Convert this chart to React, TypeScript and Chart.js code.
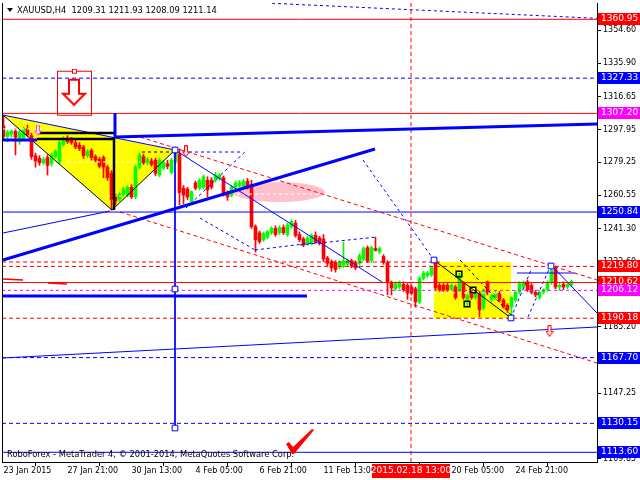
import React, { useEffect, useRef } from 'react';
import { Chart, registerables } from 'chart.js';

Chart.register(...registerables);

// XAUUSD H4 bars, oldest first (index 0 = 23 Jan 2015)
const opens = [
  1300.0, 1294.0, 1295.5, 1297.0, 1291.0, 1293.0, 1298.5, 1294.5, 1283.0, 1281.5,
  1279.0, 1282.0, 1278.5, 1282.5, 1279.5, 1289.5, 1293.0, 1292.0, 1290.5, 1289.0,
  1288.0, 1283.0, 1286.0, 1282.5, 1281.0, 1282.0, 1276.5, 1273.0, 1259.5, 1258.0,
  1261.0, 1260.5, 1265.0, 1259.5, 1276.5, 1282.5, 1279.0, 1280.0, 1280.5, 1272.0,
  1276.0, 1278.5, 1273.5, 1279.5, 1284.0, 1264.5, 1264.0, 1257.0, 1267.5, 1264.5,
  1265.0, 1269.0, 1269.0, 1269.0, 1270.0, 1270.5, 1262.0, 1260.5, 1265.0, 1266.0,
  1265.5, 1268.5, 1266.5, 1242.5, 1239.0, 1235.0, 1236.5, 1239.0, 1241.5, 1239.0,
  1242.0, 1238.0, 1242.5, 1244.5, 1238.0, 1235.5, 1233.0, 1233.0, 1237.5, 1236.0,
  1235.5, 1224.5, 1222.5, 1222.0, 1219.5, 1220.0, 1221.0, 1223.0, 1222.0, 1221.5,
  1224.0, 1230.5, 1223.0, 1230.0, 1228.0, 1225.5, 1222.0, 1210.5, 1207.0, 1208.0,
  1209.5, 1209.0, 1208.0, 1207.0, 1199.5, 1213.0, 1214.5, 1215.0, 1223.0, 1209.0,
  1209.0, 1209.0, 1207.0, 1208.0, 1206.0, 1210.0, 1201.0, 1204.5, 1202.0, 1204.5,
  1196.0, 1211.0, 1201.0, 1202.0, 1204.5, 1200.5, 1197.5, 1196.5, 1200.5, 1205.0,
  1208.0, 1211.0, 1209.0, 1205.0, 1202.0, 1205.0, 1206.5, 1210.5, 1219.0, 1208.0,
  1209.5, 1208.0, 1209.31,
];
const highs = [
  1305.5, 1297.5, 1298.0, 1298.5, 1297.5, 1299.5, 1300.5, 1296.0, 1284.5, 1283.0,
  1282.0, 1283.5, 1284.5, 1286.5, 1291.5, 1294.0, 1294.5, 1293.5, 1292.0, 1290.5,
  1289.0, 1286.5, 1287.0, 1283.5, 1282.0, 1283.0, 1277.5, 1274.5, 1261.0, 1262.0,
  1265.0, 1266.0, 1266.5, 1277.5, 1284.5, 1284.0, 1282.0, 1281.5, 1281.5, 1281.5,
  1280.0, 1280.5, 1281.5, 1288.0, 1287.0, 1266.0, 1265.0, 1263.0, 1268.5, 1270.0,
  1272.0, 1271.0, 1270.5, 1273.5, 1273.0, 1271.5, 1263.0, 1266.0, 1268.5, 1269.0,
  1269.5, 1270.0, 1269.0, 1243.5, 1240.0, 1239.5, 1240.5, 1242.5, 1243.0, 1243.0,
  1243.5, 1244.5, 1246.5, 1246.0, 1239.5, 1236.5, 1237.0, 1238.5, 1239.5, 1237.0,
  1238.0, 1225.5, 1223.5, 1223.0, 1223.0, 1233.5, 1224.0, 1224.0, 1223.0, 1227.0,
  1231.0, 1231.5, 1231.5, 1236.5, 1231.0, 1226.5, 1223.0, 1211.5, 1211.0, 1211.5,
  1211.0, 1210.0, 1209.0, 1208.0, 1214.0, 1217.0, 1217.0, 1220.0, 1224.5, 1210.5,
  1210.0, 1210.0, 1210.0, 1209.0, 1216.0, 1211.0, 1204.0, 1206.0, 1205.5, 1205.5,
  1207.0, 1211.5, 1204.0, 1205.5, 1205.5, 1201.5, 1198.5, 1202.5, 1206.0, 1211.0,
  1211.5, 1212.0, 1210.0, 1206.0, 1206.0, 1207.0, 1211.5, 1220.5, 1220.0, 1210.0,
  1211.0, 1210.5, 1211.93,
];
const lows = [
  1292.5, 1291.0, 1293.5, 1283.5, 1289.5, 1292.0, 1294.0, 1281.0, 1276.5, 1277.5,
  1278.0, 1272.0, 1277.0, 1281.5, 1278.5, 1288.5, 1290.0, 1289.5, 1287.0, 1286.0,
  1281.5, 1282.0, 1280.5, 1279.5, 1276.0, 1270.5, 1269.0, 1252.0, 1255.0, 1257.0,
  1260.0, 1259.5, 1258.5, 1258.5, 1275.5, 1278.0, 1278.0, 1277.0, 1271.5, 1271.0,
  1275.0, 1275.5, 1272.5, 1278.5, 1255.0, 1255.5, 1258.0, 1256.0, 1263.5, 1263.5,
  1264.0, 1259.5, 1264.0, 1268.0, 1269.0, 1260.0, 1257.5, 1259.5, 1264.0, 1265.0,
  1264.5, 1264.0, 1241.5, 1228.0, 1233.0, 1234.0, 1235.5, 1238.0, 1237.0, 1238.0,
  1238.0, 1237.0, 1241.5, 1236.5, 1234.0, 1231.0, 1232.0, 1232.0, 1233.0, 1232.0,
  1222.5, 1220.0, 1217.0, 1216.5, 1218.5, 1219.0, 1220.0, 1219.0, 1218.0, 1220.5,
  1223.0, 1222.0, 1222.0, 1228.5, 1227.0, 1221.0, 1203.5, 1203.5, 1206.0, 1207.0,
  1205.5, 1201.0, 1203.5, 1196.5, 1198.5, 1212.0, 1213.5, 1214.0, 1206.5, 1205.5,
  1205.5, 1205.5, 1206.0, 1201.0, 1205.0, 1201.0, 1197.0, 1201.0, 1201.0, 1191.0,
  1195.0, 1203.5, 1199.5, 1201.0, 1199.5, 1196.0, 1193.5, 1190.0, 1199.5, 1204.0,
  1207.0, 1205.5, 1204.0, 1202.5, 1201.0, 1204.0, 1205.5, 1209.5, 1207.0, 1206.0,
  1206.5, 1207.0, 1208.09,
];
const closes = [
  1294.0, 1296.5, 1297.0, 1293.5, 1296.5, 1298.5, 1295.0, 1282.5, 1280.0, 1279.0,
  1281.0, 1277.5, 1283.5, 1285.5, 1290.5, 1293.0, 1291.0, 1290.5, 1288.0, 1287.0,
  1283.0, 1285.5, 1282.0, 1280.5, 1277.0, 1276.5, 1270.5, 1258.0, 1257.0, 1261.0,
  1264.0, 1265.0, 1259.5, 1276.5, 1283.5, 1279.0, 1281.0, 1278.0, 1273.0, 1280.5,
  1279.0, 1277.0, 1280.5, 1286.0, 1262.0, 1260.5, 1259.5, 1262.5, 1264.5, 1269.0,
  1271.0, 1263.5, 1265.0, 1272.0, 1272.0, 1261.0, 1259.5, 1265.0, 1267.5, 1267.5,
  1268.5, 1265.0, 1242.5, 1235.0, 1234.0, 1238.5, 1239.5, 1241.5, 1238.0, 1242.0,
  1239.0, 1243.5, 1245.5, 1237.5, 1235.0, 1232.0, 1236.0, 1237.5, 1234.0, 1233.0,
  1224.0, 1221.5, 1219.0, 1218.0, 1222.0, 1223.0, 1223.0, 1220.0, 1219.0, 1226.0,
  1230.0, 1223.0, 1230.5, 1229.0, 1230.0, 1222.0, 1210.5, 1207.5, 1210.0, 1210.5,
  1206.5, 1204.5, 1204.5, 1199.5, 1213.0, 1216.0, 1216.0, 1219.0, 1207.5, 1206.5,
  1206.5, 1206.5, 1209.0, 1202.0, 1215.0, 1202.0, 1203.0, 1202.0, 1204.5, 1195.0,
  1206.0, 1204.5, 1203.0, 1204.5, 1200.5, 1196.5, 1195.0, 1202.0, 1205.0, 1210.0,
  1210.5, 1206.5, 1205.0, 1203.5, 1205.0, 1206.5, 1210.5, 1217.5, 1208.0, 1209.0,
  1208.0, 1209.5, 1211.14,
];

// time axis: bar index of each date label
const xTickIdx = [0, 16, 32, 48, 64, 80, 96, 112, 128];
const xTickLabels = [
  '23 Jan 2015', '27 Jan 21:00', '30 Jan 13:00', '4 Feb 05:00', '6 Feb 21:00',
  '11 Feb 13:00', '16 Feb 05:00', '20 Feb 05:00', '24 Feb 21:00',
];
// price axis tick values
const yTickValues = [
  1354.6, 1335.9, 1316.65, 1297.95, 1279.25, 1260.55, 1241.3, 1222.6, 1203.9,
  1185.2, 1166.5, 1147.25, 1128.55, 1109.85,
];
const X_MIN = -0.375;
const X_MAX = 148.375;
const Y_MIN = 1108.06;
const Y_MAX = 1370.26;

// horizontal price levels across the whole chart
const levelPrices = [1360.95, 1327.33, 1307.2, 1250.84, 1219.8, 1210.62, 1206.12, 1190.18, 1167.7, 1130.15, 1113.6];
const levelKinds = ['redSolid', 'blueDash', 'redSolid', 'blueSolid', 'redDash', 'redSolid', 'magentaDash', 'redDash', 'blueDash', 'blueDash', 'blueSolid'];
const levelTagColors = ['#FF0000', '#0000FF', '#FF00FF', '#0000FF', '#FF0000', '#FF0000', '#FF00FF', '#FF0000', '#0000FF', '#0000FF', '#0000FF'];

// vertical time marker
const eventIdx = 101.875;
const eventLabel = '2015.02.18 13:00';

// trend lines: [index1, price1, index2, price2]
const blueThickSegs = [
  [27.875, 1293.71, 148.375, 1301.14],
  [-0.125, 1223.45, 92.875, 1286.86],
  [-0.125, 1202.88, 75.875, 1202.88],
  [-0.125, 1292.0, 8.375, 1292.0],
  [27.875, 1307.42, 27.875, 1293.71],
];
const blueThinSegs = [
  [-0.125, 1306.28, 42.875, 1286.29],
  [-0.125, 1238.87, 26.625, 1251.44],
  [-0.125, 1167.47, 148.375, 1185.18],
  [42.875, 1286.29, 42.875, 1127.48],
  [42.875, 1286.29, 94.625, 1210.88],
  [128.375, 1216.02, 142.875, 1216.02],
  [137.375, 1219.45, 148.375, 1193.17],
];
const blueDashSegs = [
  [67.125, 1370.09, 148.375, 1361.52],
  [44.875, 1285.14, 59.125, 1285.14],
  [45.625, 1253.15, 60.875, 1286.29],
  [49.125, 1247.44, 62.875, 1229.17],
  [62.875, 1229.17, 79.125, 1233.73],
  [74.125, 1232.02, 93.375, 1236.59],
  [89.875, 1280.57, 107.625, 1223.45],
  [126.875, 1190.32, 131.875, 1217.73],
  [131.125, 1190.89, 136.625, 1219.45],
];
const redSolidSegs = [
  [-0.125, 1212.59, 4.875, 1212.02],
  [11.125, 1210.31, 15.875, 1209.74],
];
const redDashSegs = [
  [-0.375, 1222.3, 109.125, 1222.3],
  [34.125, 1293.71, 148.375, 1212.02],
  [29.125, 1250.87, 148.375, 1164.61],
];
const blackThickSegs = [
  [8.375, 1296.0, 27.625, 1296.0],
  [8.375, 1292.57, 27.625, 1292.57],
  [27.625, 1293.71, 27.625, 1252.0],
];
const blackThinSegs = [
  [-0.125, 1306.28, 27.125, 1252.0],
  [27.125, 1252.0, 42.875, 1286.29],
  [107.875, 1222.88, 126.875, 1190.32],
];
const blackDashSegs = [
  [34.625, 1285.14, 42.875, 1285.14],
  [114.125, 1223.45, 127.375, 1190.89],
];
const whiteDashSegs = [
  [-0.125, 1298.28, 13.625, 1298.28],
  [12.875, 1279.43, 34.125, 1279.43],
  [22.875, 1260.0, 30.875, 1260.0],
  [107.625, 1204.6, 126.875, 1204.6],
  [58.375, 1261.15, 79.125, 1261.15],
];

// pattern areas
const patternTriangle = [[-0.125, 1306.28], [42.875, 1286.29], [27.125, 1252.0]];
const patternBox = [[107.625, 1222.3], [126.875, 1222.3], [126.875, 1190.32], [107.625, 1190.32]];

// markers
const blueSquares = [[107.625, 1223.45], [126.875, 1190.32], [136.875, 1220.03], [42.875, 1286.29], [42.875, 1206.88], [42.875, 1127.48]];
const blackSquares = [[113.875, 1215.45], [117.375, 1206.31], [115.875, 1198.3]];
const sellSignal = [17.875, 1319.0];
const pinkArrows = [[8.625, 1297.7]];
const redArrows = [[45.625, 1285.5], [136.5, 1182.9]];
const targetZone = [68.875, 1262.3];
const brandMark = [74.125, 1119.5];

const FONT = '"DejaVu Sans", sans-serif';

function makeArrow(w: number, h: number, stroke: string, fillColor: string) {
  const c = document.createElement('canvas');
  c.width = w;
  c.height = h;
  const g = c.getContext('2d')!;
  const sx0 = Math.round(w * 0.28) + 0.5;
  const sx1 = Math.round(w * 0.72) - 0.5;
  const neck = Math.round(h * 0.5) + 0.5;
  g.beginPath();
  g.moveTo(sx0, 0.5);
  g.lineTo(sx1, 0.5);
  g.lineTo(sx1, neck);
  g.lineTo(w - 0.5, neck);
  g.lineTo(w / 2, h - 0.5);
  g.lineTo(0.5, neck);
  g.lineTo(sx0, neck);
  g.closePath();
  g.fillStyle = fillColor;
  g.fill();
  g.strokeStyle = stroke;
  g.lineWidth = 1;
  g.stroke();
  return c;
}

function makeBoxedArrow() {
  const c = document.createElement('canvas');
  c.width = 36;
  c.height = 48;
  const g = c.getContext('2d')!;
  g.strokeStyle = '#FF0000';
  g.lineWidth = 1;
  g.strokeRect(0.5, 2.5, 34, 44);
  g.fillStyle = '#FFFFFF';
  g.fillRect(15.5, 0.5, 4, 4);
  g.strokeRect(15.5, 0.5, 4, 4);
  g.lineWidth = 2;
  g.beginPath();
  g.moveTo(12, 11);
  g.lineTo(22, 11);
  g.lineTo(22, 25);
  g.lineTo(28, 25);
  g.lineTo(17, 36);
  g.lineTo(6, 25);
  g.lineTo(12, 25);
  g.closePath();
  g.stroke();
  return c;
}

function makeEllipse() {
  const c = document.createElement('canvas');
  c.width = 94;
  c.height = 22;
  const g = c.getContext('2d')!;
  g.fillStyle = '#FFC0CB';
  g.beginPath();
  g.ellipse(47, 11, 46, 10, 0, 0, Math.PI * 2);
  g.fill();
  return c;
}

function makeCheck() {
  const c = document.createElement('canvas');
  c.width = 30;
  c.height = 28;
  const g = c.getContext('2d')!;
  g.fillStyle = '#FF0000';
  g.beginPath();
  g.moveTo(1, 16);
  g.lineTo(4, 14);
  g.lineTo(8, 19);
  g.lineTo(27, 1);
  g.lineTo(29, 2);
  g.lineTo(9, 26);
  g.lineTo(7, 26);
  g.closePath();
  g.fill();
  return c;
}

const pts = (list: number[][]) => list.map(([x, y]) => ({ x, y }));

// keep the plot area flush with the canvas: no extra room for edge labels
const noEdgePadding = (s: any) => {
  s.paddingLeft = 0;
  s.paddingRight = 0;
  s.paddingTop = 0;
  s.paddingBottom = 0;
};

export default function App() {
  const ref = useRef<HTMLCanvasElement>(null);

  useEffect(() => {
    const canvas = ref.current;
    if (!canvas) return;

    const segSet = (segs: number[][], color: string, width: number, dash: number[] = [], order = 1) =>
      segs.map((s) => ({
        type: 'line' as const,
        data: [{ x: s[0], y: s[1] }, { x: s[2], y: s[3] }],
        borderColor: color,
        borderWidth: width,
        borderDash: dash,
        pointRadius: 0,
        fill: false,
        tension: 0,
        order,
      }));

    const kindStyle: Record<string, [string, number[]]> = {
      redSolid: ['#FF0000', []],
      redDash: ['#FF0000', [4, 3]],
      blueSolid: ['#0000FF', []],
      blueDash: ['#0000FF', [4, 3]],
      magentaDash: ['#FF00FF', [3, 3]],
    };
    const levelSets = levelPrices.map((p, k) => {
      const [col, dash] = kindStyle[levelKinds[k]];
      return segSet([[X_MIN, p, X_MAX, p]], col, 1, dash, 2)[0];
    });

    const up = (i: number) => closes[i] >= opens[i];
    const candleColors = opens.map((_, i) => (up(i) ? '#00FF00' : '#FF0000'));

    const imagePoint = (p: number[], img: HTMLCanvasElement, order = 1) => ({
      type: 'line' as const,
      data: [{ x: p[0], y: p[1] }],
      showLine: false,
      pointStyle: img,
      pointRadius: 10,
      order,
    });

    const chart = new Chart(canvas, {
      type: 'line',
      data: {
        datasets: [
          // pattern areas (background)
          {
            type: 'line',
            data: pts(patternTriangle),
            fill: 'shape',
            backgroundColor: '#FFFF00',
            borderColor: 'rgba(0,0,0,0)',
            borderWidth: 1,
            pointRadius: 0,
            order: 20,
          },
          {
            type: 'line',
            data: pts(patternBox),
            fill: 'shape',
            backgroundColor: '#FFFF00',
            borderColor: 'rgba(0,0,0,0)',
            borderWidth: 1,
            pointRadius: 0,
            order: 20,
          },
          imagePoint(targetZone, makeEllipse(), 19),
          // candles
          {
            type: 'bar',
            data: opens.map((_, i) => ({ x: i, y: [lows[i], highs[i]] })),
            backgroundColor: candleColors,
            barThickness: 1,
            grouped: false,
            order: 11,
          },
          {
            type: 'bar',
            data: opens.map((o, i) => ({ x: i, y: [o, closes[i]] })),
            backgroundColor: candleColors,
            barThickness: 3,
            minBarLength: 1,
            grouped: false,
            order: 10,
          },
          // levels and trend lines
          ...levelSets,
          ...segSet([[eventIdx, Y_MIN, eventIdx, Y_MAX]], '#FF0000', 1, [4, 3], 2),
          ...segSet(whiteDashSegs, '#FFFFFF', 1, [3, 3], 3),
          ...segSet(redDashSegs, '#FF0000', 1, [4, 3], 2),
          ...segSet(redSolidSegs, '#FF0000', 1.5, [], 2),
          ...segSet(blueDashSegs, '#0000FF', 1, [3, 3], 2),
          ...segSet(blueThinSegs, '#0000FF', 1, [], 2),
          ...segSet(blueThickSegs, '#0000FF', 3, [], 1),
          ...segSet(blackThinSegs, '#000000', 1, [], 2),
          ...segSet(blackDashSegs, '#000000', 1, [3, 3], 2),
          ...segSet(blackThickSegs, '#000000', 2.5, [], 1),
          // markers
          {
            type: 'line',
            data: pts(blueSquares),
            showLine: false,
            pointStyle: 'rect',
            pointRadius: 4,
            pointBackgroundColor: '#FFFFFF',
            pointBorderColor: '#0000FF',
            pointBorderWidth: 1,
            order: 0,
          },
          {
            type: 'line',
            data: pts(blackSquares),
            showLine: false,
            pointStyle: 'rect',
            pointRadius: 4,
            pointBackgroundColor: 'rgba(0,0,0,0)',
            pointBorderColor: '#000000',
            pointBorderWidth: 1.5,
            order: 0,
          },
          imagePoint(sellSignal, makeBoxedArrow(), 0),
          ...pinkArrows.map((p) => imagePoint(p, makeArrow(8, 11, '#FF44CC', '#FFE0F4'), 0)),
          ...redArrows.map((p) => imagePoint(p, makeArrow(8, 12, '#FF0000', '#FFE8E8'), 0)),
          imagePoint(brandMark, makeCheck(), 0),
        ] as any,
      },
      options: {
        responsive: false,
        devicePixelRatio: 1,
        animation: false,
        events: [],
        layout: { autoPadding: false, padding: { left: 2, top: 3, right: 0, bottom: 0 } },
        plugins: {
          legend: { display: false },
          tooltip: { enabled: false },
        },
        scales: {
          x: {
            type: 'linear',
            min: X_MIN,
            max: X_MAX,
            offset: false,
            afterFit: (s: any) => {
              s.height = 18;
              noEdgePadding(s);
            },
            afterBuildTicks: (s: any) => {
              s.ticks = xTickIdx.map((v) => ({ value: v }));
            },
            ticks: {
              autoSkip: false,
              maxRotation: 0,
              minRotation: 0,
              align: 'start',
              padding: 0,
              color: '#000000',
              font: { family: FONT, size: 8 },
              callback: (v: any) => xTickLabels[xTickIdx.indexOf(Number(v))] ?? '',
            },
            grid: { display: true, drawOnChartArea: false, drawTicks: true, tickLength: 4, color: '#000000' },
            border: { display: true, color: '#000000', width: 1 },
          },
          y: {
            type: 'linear',
            position: 'right',
            min: Y_MIN,
            max: Y_MAX,
            afterFit: (s: any) => {
              s.width = 43;
              noEdgePadding(s);
            },
            afterBuildTicks: (s: any) => {
              s.ticks = yTickValues.map((v) => ({ value: v }));
            },
            ticks: {
              autoSkip: false,
              padding: 2,
              color: '#000000',
              font: { family: FONT, size: 8 },
              callback: (v: any) => Number(v).toFixed(2),
            },
            grid: { display: true, drawOnChartArea: false, drawTicks: true, tickLength: 4, color: '#000000' },
            border: { display: true, color: '#000000', width: 1 },
          },
        },
      },
      plugins: [
        {
          id: 'terminalOverlay',
          afterDraw(c: any) {
            const { ctx, chartArea, scales } = c;
            const xs = scales.x;
            const ys = scales.y;
            ctx.save();
            // left frame edge
            ctx.strokeStyle = '#000000';
            ctx.lineWidth = 1;
            ctx.beginPath();
            ctx.moveTo(chartArea.left + 0.5, chartArea.top);
            ctx.lineTo(chartArea.left + 0.5, chartArea.bottom);
            ctx.stroke();

            // symbol header
            const last = opens.length - 1;
            ctx.fillStyle = '#000000';
            ctx.beginPath();
            ctx.moveTo(chartArea.left + 5, chartArea.top + 5);
            ctx.lineTo(chartArea.left + 11, chartArea.top + 5);
            ctx.lineTo(chartArea.left + 8, chartArea.top + 9);
            ctx.closePath();
            ctx.fill();
            ctx.font = `8.3px ${FONT}`;
            ctx.textBaseline = 'middle';
            ctx.textAlign = 'left';
            ctx.fillText(
              `XAUUSD,H4  ${opens[last].toFixed(2)} ${highs[last].toFixed(2)} ${lows[last].toFixed(2)} ${closes[last].toFixed(2)}`,
              chartArea.left + 15,
              chartArea.top + 7.5
            );
            // broker line
            ctx.fillText(
              'RoboForex - MetaTrader 4, © 2001-2014, MetaQuotes Software Corp.',
              chartArea.left + 5,
              chartArea.bottom - 7
            );

            // price tags on the axis
            ctx.font = `9px ${FONT}`;
            levelPrices.forEach((p, k) => {
              const py = Math.round(ys.getPixelForValue(p));
              ctx.fillStyle = levelTagColors[k];
              ctx.fillRect(chartArea.right + 1, py - 6, 43, 12);
              ctx.fillStyle = '#FFFFFF';
              ctx.fillText(p.toFixed(2), chartArea.right + 4, py);
            });

            // time tag on the axis
            const tx = xs.getPixelForValue(eventIdx);
            ctx.fillStyle = '#FF0000';
            ctx.fillRect(tx - 39, chartArea.bottom + 2, 78, 14);
            ctx.fillStyle = '#FFFFFF';
            ctx.textAlign = 'center';
            ctx.fillText(eventLabel, tx, chartArea.bottom + 9);
            ctx.restore();
          },
        },
      ],
    });

    return () => chart.destroy();
  }, []);

  return (
    <div style={{ position: 'fixed', left: 0, top: 0, width: 640, height: 480, background: '#FFFFFF' }}>
      <canvas ref={ref} width={640} height={480} style={{ display: 'block', width: 640, height: 480 }} />
    </div>
  );
}
